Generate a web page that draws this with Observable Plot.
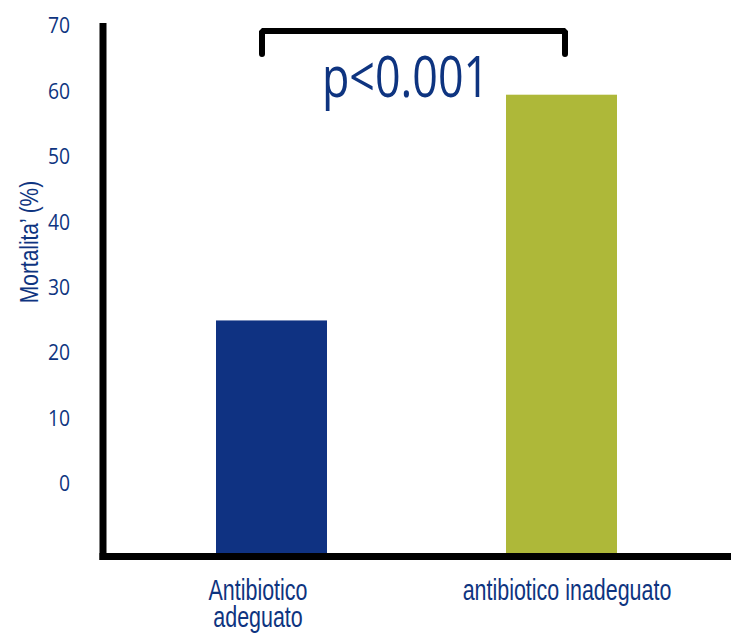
<!DOCTYPE html>
<html>
<head>
<meta charset="utf-8">
<script src="https://cdn.jsdelivr.net/npm/d3@7"></script>
<script src="https://cdn.jsdelivr.net/npm/@observablehq/plot@0.6"></script>
<style>
  html, body { margin: 0; padding: 0; background: #fff; }
  #chart svg { display: block; }
</style>
</head>
<body>
<div id="chart"></div>
<script>
// Mortality by appropriateness of the empirical antibiotic therapy
const categories = ["Antibiotico\nadeguato", "antibiotico inadeguato"];
const mortality = [25, 59.5];
const barColors = ["#0f3282", "#aeb839"];
const yTicks = [0, 10, 20, 30, 40, 50, 60, 70];
const yLabel = "Mortalita’ (%)";
const pValue = "p<0.001";
// significance bracket: ends drop to 65.8, bar runs at 69.3
const bracketLeftY = [65.8, 69.3, 69.3];
const bracketLeftCat = [categories[0], categories[0], categories[1]];
const bracketRightY = [69.3, 69.3, 65.8];
const bracketRightCat = [categories[0], categories[1], categories[1]];

// the value axis starts below zero, bars rise from its floor
const yFloor = -11;
const yCeil = 70;

const navy = "#0e3480";

const bars = categories.map((c, i) => ({category: c, value: mortality[i], color: barColors[i]}));
const bracketLeft = bracketLeftY.map((y, i) => ({category: bracketLeftCat[i], y}));
const bracketRight = bracketRightY.map((y, i) => ({category: bracketRightCat[i], y}));

const bracketStyle = {x: "category", y: "y", stroke: "#000", strokeWidth: 6, strokeLinejoin: "miter"};

const chart = Plot.plot({
  width: 731,
  height: 633,
  marginLeft: 102.5,
  marginRight: 0,
  marginTop: 26,
  marginBottom: 77,
  style: {background: "#fff", fontFamily: "'Liberation Sans', Arial, sans-serif"},
  x: {domain: categories, paddingInner: 0.617, paddingOuter: 0.39, axis: null},
  y: {domain: [yFloor, yCeil], axis: null},
  marks: [
    Plot.barY(bars, {x: "category", y1: yFloor, y2: "value", fill: "color"}),
    Plot.frame({anchor: "left", stroke: "#000", strokeWidth: 7, strokeLinecap: "square"}),
    Plot.frame({anchor: "bottom", stroke: "#000", strokeWidth: 7, strokeLinecap: "square"}),
    Plot.line(bracketLeft, {...bracketStyle, dx: -10}),
    Plot.line(bracketRight, {...bracketStyle, dx: 3}),
    Plot.text(yTicks, {
      y: d => d, text: d => String(d), frameAnchor: "left",
      textAnchor: "end", dx: -33, fill: navy, fontSize: 21,
      fontFamily: "'Open Sans', sans-serif"
    }),
    Plot.text([yLabel], {
      frameAnchor: "left", rotate: -90, textAnchor: "middle",
      lineAnchor: "bottom", dx: -65, dy: -49.5, fill: navy, fontSize: 25.5
    }),
    Plot.text(categories.slice(0, 1), {
      x: d => d, frameAnchor: "bottom", lineAnchor: "top",
      dy: 24, dx: -14, lineHeight: 0.93, fill: navy, fontSize: 29
    }),
    Plot.text(categories.slice(1), {
      x: d => d, frameAnchor: "bottom", lineAnchor: "top",
      dy: 24, dx: 5, lineHeight: 0.93, fill: navy, fontSize: 29
    }),
    Plot.text([pValue], {
      frameAnchor: "top", lineAnchor: "top", dx: -11.75, dy: 31,
      fill: navy, fontSize: 56, fontFamily: "'Open Sans', sans-serif"
    })
  ]
});

document.getElementById("chart").appendChild(chart);

// the lettering is set in a condensed style: each label is squeezed along
// its reading direction, about its centre (tick labels about their right edge)
const tickStrings = yTicks.map(String);
function condenseSpec(s) {
  if (tickStrings.includes(s)) return {k: 0.92, axis: "x", origin: "right"};
  if (s === yLabel) return {k: 0.82, axis: "y", origin: "center"};
  if (s === pValue) return {k: 0.8, axis: "x", origin: "center"};
  return {k: 0.74, axis: "x", origin: "center"};
}
for (const t of Array.from(chart.querySelectorAll("text"))) {
  const {k, axis, origin} = condenseSpec(t.textContent);
  const r = t.getBoundingClientRect();
  const sx = origin === "right" ? r.right : (r.left + r.right) / 2;
  const sy = (r.top + r.bottom) / 2;
  const p = new DOMPoint(sx, sy).matrixTransform(t.parentNode.getScreenCTM().inverse());
  const g = document.createElementNS("http://www.w3.org/2000/svg", "g");
  g.setAttribute("transform", axis === "x"
    ? `translate(${p.x},0) scale(${k},1) translate(${-p.x},0)`
    : `translate(0,${p.y}) scale(1,${k}) translate(0,${-p.y})`);
  t.parentNode.insertBefore(g, t);
  g.appendChild(t);
}
</script>
</body>
</html>
